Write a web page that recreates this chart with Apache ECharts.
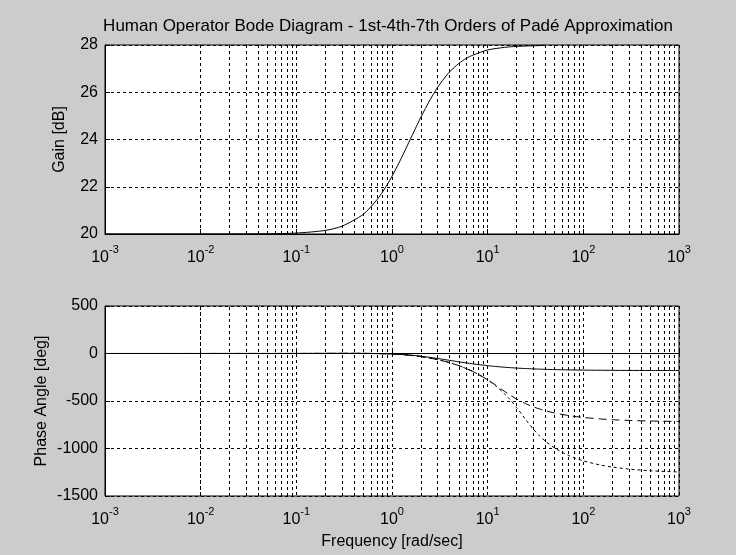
<!DOCTYPE html>
<html>
<head>
<meta charset="utf-8">
<script src="https://cdn.jsdelivr.net/npm/echarts@6/dist/echarts.min.js"></script>
<style>html,body{margin:0;padding:0;background:#cccccc;}#c{width:736px;height:555px;}</style>
</head>
<body>
<div id="c"></div>
<script>
// ---- data ----
const titleText = 'Human Operator Bode Diagram - 1st-4th-7th Orders of Padé Approximation';
const xTickExponents = [-3, -2, -1, 0, 1, 2, 3];
const gainTicks = [20, 22, 24, 26, 28];
const phaseTicks = [-1500, -1000, -500, 0, 500];

const gainFreq = [0.001, 0.01, 0.05, 0.1, 0.2, 0.3, 0.5, 0.7, 0.8, 0.9, 1, 1.2, 1.3, 1.5, 1.75, 2, 2.5, 3, 3.5, 4, 5, 6, 7, 10, 15, 20, 40];
const gainDb   = [20, 20, 20.01, 20.04, 20.15, 20.33, 20.83, 21.46, 21.79, 22.12, 22.44, 23.06, 23.35, 23.88, 24.45, 24.94, 25.68, 26.21, 26.58, 26.86, 27.22, 27.44, 27.57, 27.79, 27.90, 27.94, 27.985];

const phaseFreq = [0.001, 0.01, 0.1, 0.3, 0.5, 1, 1.5, 2, 3, 4, 5, 7, 10, 12, 15, 17, 20, 25, 30, 35, 40, 50, 70, 100, 150, 200, 300, 500, 1000];
const phase1st = [0, 0.3, 0.6, 1.5, 1.3, -4.6, -15.6, -28.3, -52.5, -72.2, -87.6, -109.1, -128.2, -136.2, -144.5, -148.6, -153.2, -158.5, -162.0, -164.6, -166.5, -169.2, -172.3, -174.6, -176.3, -177.3, -178.2, -178.9, -179.4];
const phase4th = [0, 0.3, 0.6, 1.5, 1.3, -5.2, -17.5, -32.5, -64.7, -96.8, -128.1, -189.0, -276.3, -329.9, -398.4, -435.3, -478.6, -528.5, -561.4, -584.8, -602.0, -626.0, -653.0, -673.2, -688.8, -696.7, -704.4, -710.7, -715.3];
const phase7th = [0, 0.3, 0.6, 1.5, 1.3, -5.2, -17.5, -32.5, -64.7, -96.8, -128.1, -189.1, -278.3, -336.9, -424.1, -481.8, -566.8, -696.0, -796.7, -869.7, -921.6, -994.4, -1072.9, -1130.0, -1173.6, -1195.3, -1216.9, -1234.2, -1247.1];

// ---- chart ----
const F = '"Liberation Sans", Arial, Helvetica, sans-serif';
const pair = (xs, ys) => xs.map((x, i) => [x, ys[i]]);
const minorFreqs = [];
for (let k = -3; k < 3; k++) for (let m = 2; m <= 9; m++) minorFreqs.push(m * Math.pow(10, k));

const gridDash = [3, 3];
function xAxisCfg(gi, name) {
  return {
    type: 'log', logBase: 10, gridIndex: gi, min: 0.001, max: 1000, splitNumber: 6,
    name: name || '', nameLocation: 'middle', nameGap: 38, nameMoveOverlap: false,
    nameTextStyle: {fontFamily: F, fontSize: 16, color: '#000'},
    axisLine: {show: true, lineStyle: {color: '#000', width: 1}},
    axisTick: {show: true, inside: true, length: 5, lineStyle: {color: '#000'}},
    minorTick: {show: false},
    splitLine: {show: true, lineStyle: {color: '#000', width: 1, type: gridDash}},
    axisLabel: {
      margin: 10, color: '#000',
      formatter: v => {
        const e = Math.round(Math.log10(v));
        return xTickExponents.indexOf(e) >= 0 ? '{b|10}{e|' + e + '}' : '';
      },
      rich: {
        b: {fontFamily: F, fontSize: 16, color: '#000', padding: [6, 0, 0, 0], verticalAlign: 'bottom'},
        e: {fontFamily: F, fontSize: 11, color: '#000', verticalAlign: 'top'}
      }
    }
  };
}
function yAxisCfg(gi, name, ticks, gap) {
  return {
    type: 'value', gridIndex: gi, min: ticks[0], max: ticks[ticks.length - 1], interval: ticks[1] - ticks[0],
    name: name, nameLocation: 'middle', nameGap: gap, nameRotate: 90, nameMoveOverlap: false,
    nameTextStyle: {fontFamily: F, fontSize: 16, color: '#000'},
    axisLine: {show: true, lineStyle: {color: '#000', width: 1}},
    axisTick: {show: true, inside: true, length: 5, lineStyle: {color: '#000'}},
    splitLine: {show: true, lineStyle: {color: '#000', width: 1, type: gridDash}},
    axisLabel: {margin: 7, color: '#000', fontFamily: F, fontSize: 16, formatter: v => String(v)}
  };
}
function minorGridSeries(gi) {
  return {
    type: 'line', xAxisIndex: gi, yAxisIndex: gi, data: [], z: 1, silent: true,
    markLine: {
      silent: true, symbol: ['none', 'none'], animation: false,
      label: {show: false},
      lineStyle: {color: '#000', width: 1, type: gridDash},
      emphasis: {disabled: true},
      data: minorFreqs.map(f => ({xAxis: f}))
    }
  };
}
function curve(gi, xs, ys, dash) {
  return {
    type: 'line', xAxisIndex: gi, yAxisIndex: gi, data: pair(xs, ys), z: 5,
    showSymbol: false, smooth: 0.25, animation: false, silent: true,
    lineStyle: {color: '#000', width: 1, type: dash}
  };
}

const chart = echarts.init(document.getElementById('c'), null, {renderer: 'canvas'});
chart.setOption({
  backgroundColor: '#cccccc',
  animation: false,
  grid: [
    {left: 105, top: 45, width: 574, height: 189, show: true, backgroundColor: '#fff', borderColor: '#000', borderWidth: 1},
    {left: 105, top: 306, width: 574, height: 190, show: true, backgroundColor: '#fff', borderColor: '#000', borderWidth: 1}
  ],
  graphic: [{
    type: 'text', x: 388, y: 26, z: 10,
    style: {text: titleText, font: '17px ' + F, fill: '#000', align: 'center', verticalAlign: 'middle'}
  }],
  xAxis: [xAxisCfg(0), xAxisCfg(1, 'Frequency [rad/sec]')],
  yAxis: [yAxisCfg(0, 'Gain [dB]', gainTicks, 37), yAxisCfg(1, 'Phase Angle [deg]', phaseTicks, 55)],
  series: [
    minorGridSeries(0),
    minorGridSeries(1),
    curve(0, gainFreq, gainDb, 'solid'),
    curve(1, phaseFreq, phase1st, 'solid'),
    curve(1, phaseFreq, phase4th, [8, 5]),
    curve(1, phaseFreq, phase7th, [3, 3])
  ]
});
</script>
</body>
</html>
